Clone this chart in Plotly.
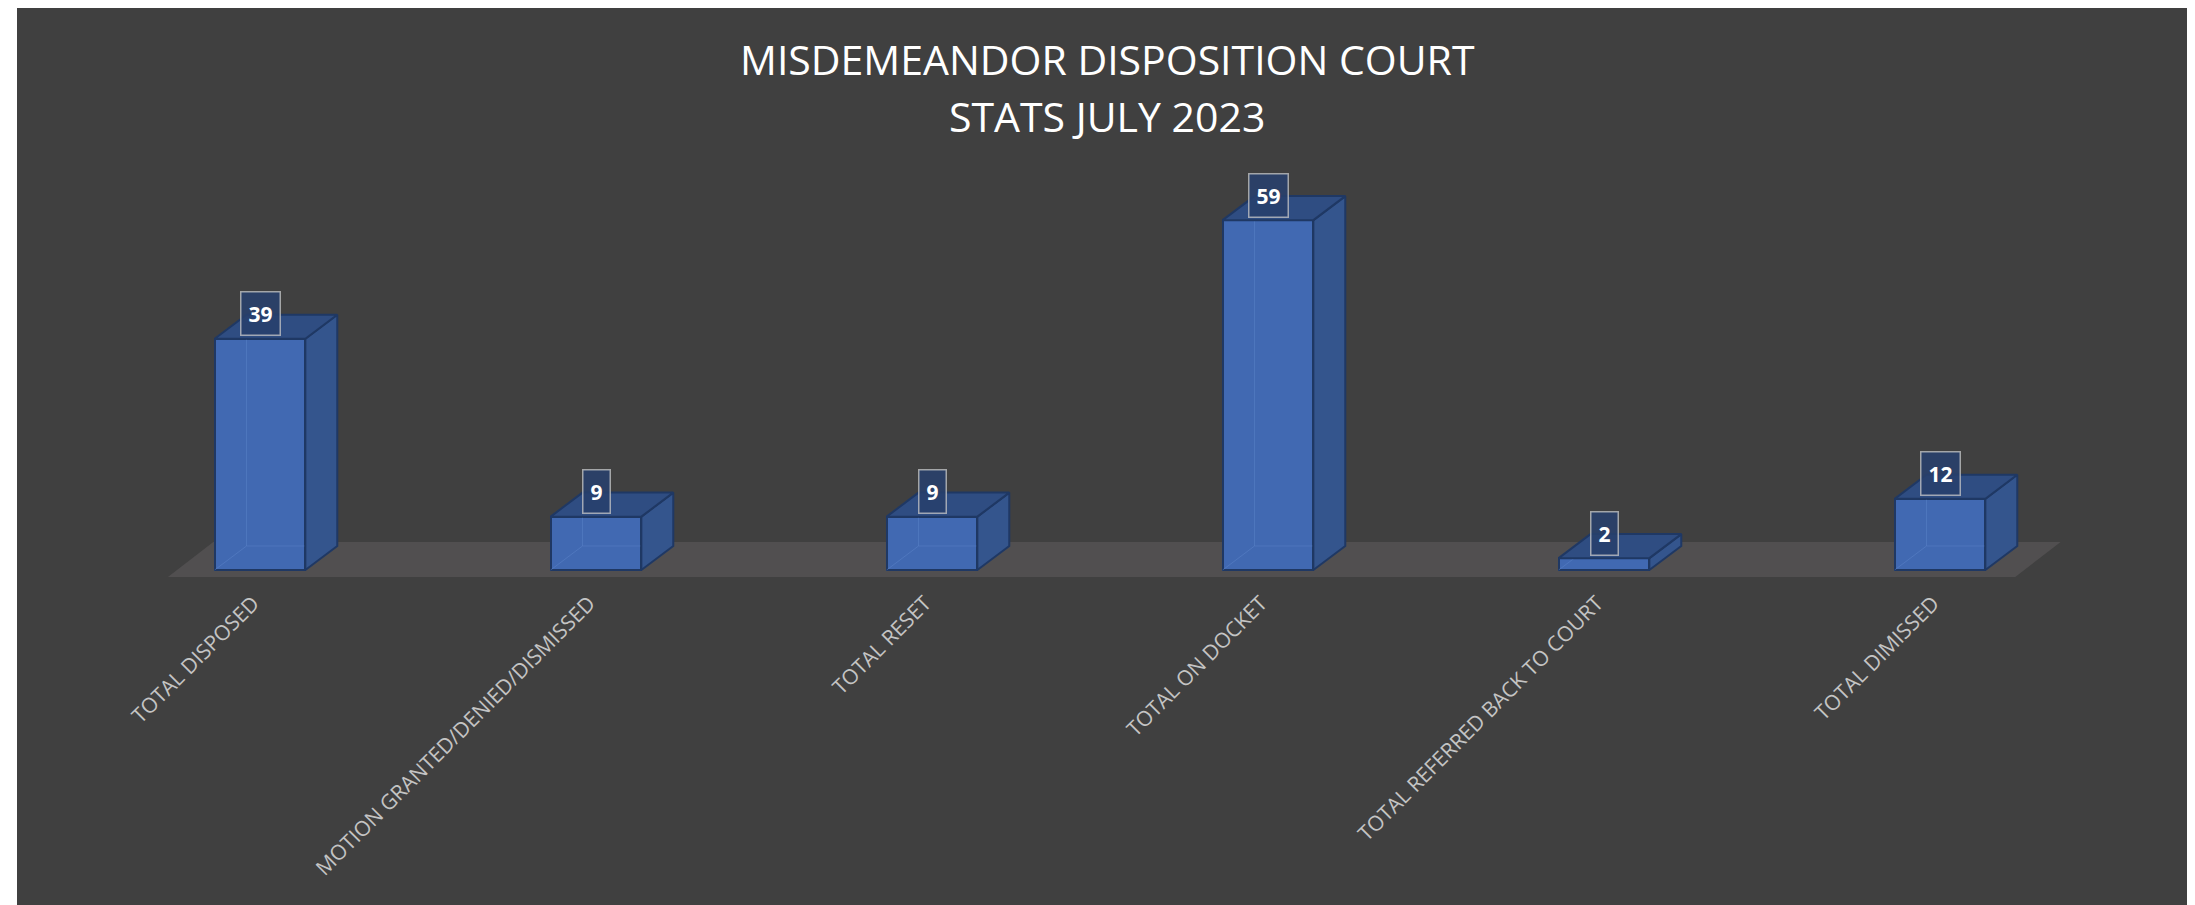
import plotly.graph_objects as go

# ---- data ----
categories = [
    "TOTAL DISPOSED",
    "MOTION GRANTED/DENIED/DISMISSED",
    "TOTAL RESET",
    "TOTAL ON DOCKET",
    "TOTAL REFERRED BACK TO COURT",
    "TOTAL DIMISSED",
]
values = [39, 9, 9, 59, 2, 12]
title_lines = ["MISDEMEANDOR DISPOSITION COURT", "STATS JULY 2023"]

# ---- styling constants ----
W, H = 2187, 897          # page has an 8px body margin
BG = "#404040"
FLOOR = "#514f50"
FRONT = "#4169b2"
SIDE = "#34558d"
TOP = "#2f4d82"
EDGE = "#1f3864"
BAR_W = 0.27          # front-face width in category units
DX = 0.095            # depth offset (x units)
DY = 4.05             # depth offset (y units)
FLOOR_DX = 0.135
FLOOR_DY = 5.9
FLOOR_PAD = 0.224

px_per_cat = 336.0
first_center_px = 252.0
x0 = -first_center_px / px_per_cat
x1 = x0 + W / px_per_cat
px_per_unit = 5.93
axis_px = 578.0
zero_px = 562.0
y_top = zero_px / px_per_unit
y_bot = -(axis_px - zero_px) / px_per_unit

xs = list(range(len(categories)))
n = len(categories)

fig = go.Figure()

# side faces and top faces computed from values
side_x, side_y, top_x, top_y = [], [], [], []
hid_x, hid_y = [], []
for xi, v in zip(xs, values):
    r = xi + BAR_W / 2
    l = xi - BAR_W / 2
    side_x += [r, r + DX, r + DX, r, r, None]
    side_y += [0, DY, v + DY, v, 0, None]
    top_x += [l, r, r + DX, l + DX, l, None]
    top_y += [v, v, v + DY, v + DY, v, None]
    # faint hidden back edges
    hid_x += [l, l + DX, r + DX, None, l + DX, l + DX, None]
    hid_y += [0, DY, DY, None, DY, v + DY, None]

fig.add_trace(go.Bar(
    x=xs, y=values, width=BAR_W,
    marker=dict(color=FRONT, line=dict(color=EDGE, width=2)),
    hoverinfo="x+y", showlegend=False))
fig.add_trace(go.Scatter(
    x=hid_x, y=hid_y, mode="lines",
    line=dict(color="rgba(95,135,205,0.45)", width=1),
    hoverinfo="skip", showlegend=False))
fig.add_trace(go.Scatter(
    x=side_x, y=side_y, fill="toself", fillcolor=SIDE, mode="lines",
    line=dict(color=EDGE, width=2), hoverinfo="skip", showlegend=False))
fig.add_trace(go.Scatter(
    x=top_x, y=top_y, fill="toself", fillcolor=TOP, mode="lines",
    line=dict(color=EDGE, width=2), hoverinfo="skip", showlegend=False))

# data labels
for xi, v in zip(xs, values):
    fig.add_annotation(
        x=xi, y=v + 25 / px_per_unit, text=f"<b>{v}</b>", showarrow=False,
        font=dict(family="Open Sans", size=21, color="white"),
        bgcolor="rgba(40,64,108,0.88)", bordercolor="rgba(200,200,200,0.75)",
        borderwidth=1.5, borderpad=7, xanchor="center", yanchor="middle")

# title
for t, yp in zip(title_lines, [51, 108]):
    fig.add_annotation(
        xref="paper", yref="paper", x=(1099 / W), y=1 - yp / H,
        text=t, showarrow=False, xanchor="center", yanchor="middle",
        font=dict(family="Open Sans", size=41, color="white"))

# floor plane under the bars (drawn below traces)
fl_front = -1.18
fl_left = -FLOOR_PAD - 0.05
fl_right = (n - 1) + FLOOR_PAD
floor_path = (f"M {fl_left},{fl_front} L {fl_right},{fl_front} "
              f"L {fl_right + FLOOR_DX},{fl_front + FLOOR_DY} "
              f"L {fl_left + FLOOR_DX},{fl_front + FLOOR_DY} Z")

fig.update_layout(
    width=W, height=H,
    margin=dict(l=0, r=0, t=0, b=0),
    paper_bgcolor="white",
    plot_bgcolor="rgba(0,0,0,0)",
    bargap=0,
    shapes=[
        dict(type="rect", xref="paper", yref="paper",
             x0=9 / W, x1=1, y0=0, y1=1,
             fillcolor=BG, line=dict(width=0), layer="below"),
        dict(type="path", xref="x", yref="y", path=floor_path,
             fillcolor=FLOOR, line=dict(width=0), layer="below"),
    ],
    xaxis=dict(range=[x0, x1], domain=[0, 1], tickmode="array",
               tickvals=xs, ticktext=categories, tickangle=-45,
               ticklabelshift=-7,
               showgrid=False, zeroline=False, showline=False, ticks="",
               tickfont=dict(family="Open Sans", size=21, color="#c4c4c4"),
               automargin=False),
    yaxis=dict(range=[y_bot, y_top], domain=[(H - axis_px) / H, 1],
               showgrid=False, zeroline=False, showline=False,
               showticklabels=False, ticks=""),
)

fig.write_html("out.html")
